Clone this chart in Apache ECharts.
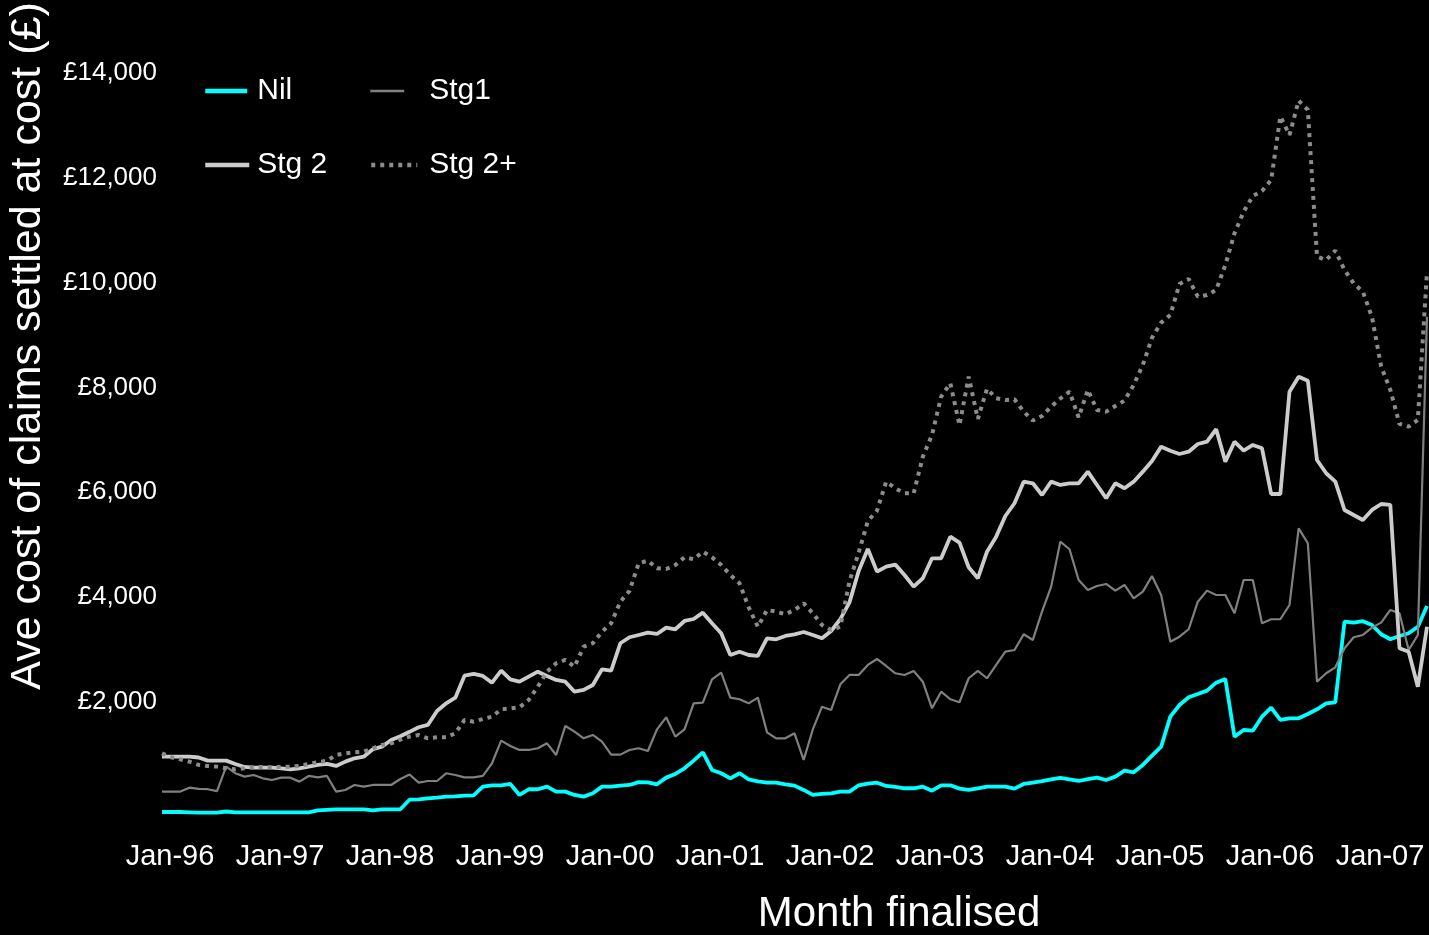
<!DOCTYPE html>
<html>
<head>
<meta charset="utf-8">
<script src="https://cdn.jsdelivr.net/npm/echarts@6/dist/echarts.min.js"></script>
<style>
html,body{margin:0;padding:0;background:#000;}
#chart{width:1429px;height:935px;}
</style>
</head>
<body>
<div id="chart"></div>
<script>
// Month names and years used to build the monthly category axis (Jan-96 .. Jul-07)
const monthNames = ['Jan','Feb','Mar','Apr','May','Jun','Jul','Aug','Sep','Oct','Nov','Dec'];
const years = ['96','97','98','99','00','01','02','03','04','05','06','07'];
const monthCount = 139;

// Tick values shown on the y axis
const yTicks = [2000, 4000, 6000, 8000, 10000, 12000, 14000];

// Series values (average cost, £), one per month
const nil = [
 -100,-100,-100,-105,-110,-110,-110,-90,-105,-105,-105,-105,
 -105,-105,-105,-105,-105,-70,-60,-50,-50,-50,-50,-70,
 -50,-48,-48,135,143,162,175,194,200,213,219,385,
 410,410,436,226,334,334,385,289,289,226,194,257,
 385,385,405,416,470,467,429,556,626,734,880,1039,
 702,639,543,639,524,486,461,461,429,403,321,226,
 245,257,289,289,410,440,460,397,380,353,353,384,
 308,410,410,346,321,353,384,384,384,346,435,460,
 490,524,550,524,492,527,556,511,575,689,658,798,
 975,1147,1719,1942,2089,2152,2216,2368,2438,1338,1465,1452,
 1719,1891,1656,1688,1688,1771,1860,1974,1993,3532,3513,3540,
 3469,3291,3196,3259,3310,3436,3831
];
const stg1 = [
 289,289,290,365,340,335,300,766,640,575,607,543,
 511,556,556,480,588,560,588,289,320,416,384,416,
 416,416,530,615,460,492,492,639,607,562,562,588,
 830,1262,1160,1084,1084,1116,1211,988,1542,1434,1306,1370,
 1243,995,995,1084,1116,1065,1478,1707,1338,1478,1974,1987,
 2432,2558,2082,2051,1974,2082,1421,1306,1306,1402,893,1478,
 1910,1847,2337,2515,2515,2706,2820,2686,2547,2515,2591,2387,
 1879,2196,2051,1994,2452,2591,2452,2706,2959,2992,3291,3183,
 3723,4200,5058,4913,4327,4137,4213,4251,4124,4232,3978,4104,
 4404,4041,3150,3245,3387,3913,4124,4041,4041,3692,4327,4327,
 3501,3578,3578,3850,5313,5027,2387,2547,2661,3024,3234,3278,
 3418,3513,3755,3692,2992,3278,9350
];
const stg2 = [
 956,956,956,956,940,880,880,880,817,760,747,747,
 747,734,715,734,766,798,817,779,861,925,956,1097,
 1147,1275,1345,1430,1517,1561,1828,1974,2082,2501,2534,2496,
 2368,2597,2432,2387,2483,2578,2496,2419,2387,2196,2229,2324,
 2623,2597,3120,3234,3278,3322,3297,3418,3387,3545,3583,3704,
 3501,3310,2896,2959,2896,2877,3215,3196,3259,3291,3335,3278,
 3215,3354,3580,3900,4500,4920,4486,4581,4620,4423,4200,4360,
 4741,4741,5154,5039,4570,4360,4867,5154,5548,5791,6203,6172,
 5949,6203,6140,6172,6172,6394,6140,5886,6172,6077,6203,6394,
 6598,6871,6794,6731,6775,6922,6966,7203,6585,6966,6794,6903,
 6840,5968,5968,7920,8206,8130,6617,6363,6203,5663,5567,5472,
 5663,5777,5758,3024,2959,2292,3436
];
const stg2plus = [
 1020,944,906,861,798,779,766,734,715,734,753,760,
 753,766,766,779,817,849,880,988,1020,1040,1052,1116,
 1179,1210,1280,1340,1370,1306,1326,1326,1402,1656,1624,1675,
 1719,1860,1879,1898,2038,2292,2578,2738,2801,2673,3055,3120,
 3341,3501,3913,4120,4646,4696,4550,4537,4614,4760,4722,4867,
 4760,4614,4423,4264,3806,3436,3755,3723,3673,3755,3883,3692,
 3469,3373,3437,4300,4850,5450,5650,6203,6077,5981,5981,6680,
 7094,7825,8080,7280,8206,7400,7975,7794,7762,7775,7539,7370,
 7456,7634,7790,7920,7430,7953,7571,7539,7647,7749,8048,8430,
 8950,9237,9384,9975,10070,9733,9765,9860,10338,10942,11355,11654,
 11749,11959,13170,12818,13473,13295,10496,10433,10612,10242,9988,9828,
 9340,8400,7953,7304,7253,7380,10210
];

const categories = [];
for (let i = 0; i < monthCount; i++) {
  categories.push(monthNames[i % 12] + '-' + years[Math.floor(i / 12)]);
}

const FONT = '"Liberation Sans", Arial, Helvetica, sans-serif';
const chart = echarts.init(document.getElementById('chart'));

function fmtPound(v) {
  return '£' + String(v).replace(/\B(?=(\d{3})+(?!\d))/g, ',');
}

function legendAt(name, left, top, iconW, textPad, lineStyle) {
  return {
    data: [name], left: left, top: top, padding: 0,
    itemWidth: iconW, itemHeight: 30,
    itemStyle: {color: 'rgba(0,0,0,0)', borderWidth: 0},
    lineStyle: lineStyle,
    textStyle: {color: '#ffffff', fontSize: 30, fontFamily: FONT, padding: [0, 0, 0, textPad]}
  };
}

chart.setOption({
  backgroundColor: '#000000',
  animation: false,
  grid: {left: 162, right: 2, top: 73, bottom: 112.5, containLabel: false},
  legend: [
    legendAt('Nil', 203, 76, 42, 5, {color: '#00ffff', width: 4.5, type: 'solid'}),
    legendAt('Stg1', 369, 76, 34, 20, {color: '#808080', width: 2.5, type: 'solid'}),
    legendAt('Stg 2', 203, 150, 44, 3, {color: '#cccccc', width: 4.5, type: 'solid'}),
    legendAt('Stg 2+', 369, 150, 46, 7, {color: '#8c8c8c', width: 4.5, type: [4, 5]})
  ],
  xAxis: {
    type: 'category',
    data: categories,
    boundaryGap: false,
    axisLine: {show: false},
    axisTick: {show: false},
    splitLine: {show: false},
    axisLabel: {
      color: '#ffffff', fontSize: 29, fontFamily: FONT, margin: 20,
      padding: [0, 0, 0, 16],
      interval: function (idx) { return idx % 12 === 0; }
    }
  },
  yAxis: {
    type: 'value',
    min: -300,
    max: 14000,
    axisLine: {show: false},
    axisTick: {show: false},
    splitLine: {show: false},
    axisLabel: {
      color: '#ffffff', fontSize: 26, fontFamily: FONT, margin: 5,
      customValues: yTicks,
      formatter: function (v) { return fmtPound(v); }
    }
  },
  graphic: [
    {type: 'text', x: 28, y: 346, rotation: Math.PI / 2,
     style: {text: 'Ave cost of claims settled at cost (£)', fill: '#ffffff', font: '43px ' + FONT,
             align: 'center', verticalAlign: 'middle'}},
    {type: 'text', x: 899, y: 914,
     style: {text: 'Month finalised', fill: '#ffffff', font: '42px ' + FONT,
             align: 'center', verticalAlign: 'middle'}}
  ],
  series: [
    {name: 'Nil', type: 'line', data: nil, symbol: 'none', z: 2,
     lineStyle: {color: '#00ffff', width: 3.8}, itemStyle: {color: '#00ffff'}},
    {name: 'Stg1', type: 'line', data: stg1, symbol: 'none', z: 3,
     lineStyle: {color: '#808080', width: 2.2}, itemStyle: {color: '#808080'}},
    {name: 'Stg 2', type: 'line', data: stg2, symbol: 'none', z: 4,
     lineStyle: {color: '#cccccc', width: 3.8}, itemStyle: {color: '#cccccc'}},
    {name: 'Stg 2+', type: 'line', data: stg2plus, symbol: 'none', z: 5,
     lineStyle: {color: '#8c8c8c', width: 4, type: [4, 5]}, itemStyle: {color: '#8c8c8c'}}
  ]
});
</script>
</body>
</html>
